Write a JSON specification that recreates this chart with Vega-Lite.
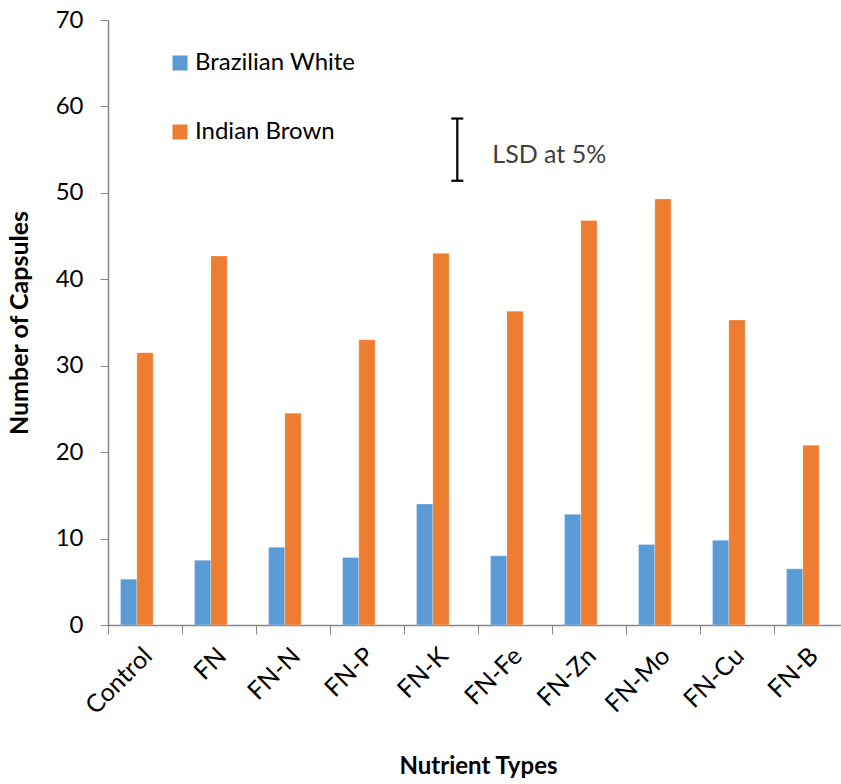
{
  "$schema": "https://vega.github.io/schema/vega-lite/v6.json",
  "autosize": {"type": "none"},
  "padding": {"left": 108, "top": 20, "right": 0, "bottom": 159},
  "width": 733,
  "height": 605,
  "background": "white",
  "config": {
    "view": {"stroke": null},
    "font": "Lato",
    "axis": {"labelFont": "Lato", "titleFont": "Lato", "domainColor": "#868686", "tickColor": "#868686", "grid": false, "labelColor": "#000000", "titleColor": "#000000"}
  },
  "datasets": {
    "bars": [
      {"nutrient": "Control", "variety": "Brazilian White", "capsules": 5.3},
      {"nutrient": "Control", "variety": "Indian Brown", "capsules": 31.5},
      {"nutrient": "FN", "variety": "Brazilian White", "capsules": 7.5},
      {"nutrient": "FN", "variety": "Indian Brown", "capsules": 42.7},
      {"nutrient": "FN-N", "variety": "Brazilian White", "capsules": 9.0},
      {"nutrient": "FN-N", "variety": "Indian Brown", "capsules": 24.5},
      {"nutrient": "FN-P", "variety": "Brazilian White", "capsules": 7.8},
      {"nutrient": "FN-P", "variety": "Indian Brown", "capsules": 33.0},
      {"nutrient": "FN-K", "variety": "Brazilian White", "capsules": 14.0},
      {"nutrient": "FN-K", "variety": "Indian Brown", "capsules": 43.0},
      {"nutrient": "FN-Fe", "variety": "Brazilian White", "capsules": 8.0},
      {"nutrient": "FN-Fe", "variety": "Indian Brown", "capsules": 36.3},
      {"nutrient": "FN-Zn", "variety": "Brazilian White", "capsules": 12.8},
      {"nutrient": "FN-Zn", "variety": "Indian Brown", "capsules": 46.8},
      {"nutrient": "FN-Mo", "variety": "Brazilian White", "capsules": 9.3},
      {"nutrient": "FN-Mo", "variety": "Indian Brown", "capsules": 49.3},
      {"nutrient": "FN-Cu", "variety": "Brazilian White", "capsules": 9.8},
      {"nutrient": "FN-Cu", "variety": "Indian Brown", "capsules": 35.3},
      {"nutrient": "FN-B", "variety": "Brazilian White", "capsules": 6.5},
      {"nutrient": "FN-B", "variety": "Indian Brown", "capsules": 20.8}
    ],
    "lsd": [
      {"nutrient": "FN-K", "variety": "LSD", "lo": 51.4, "hi": 58.6, "mid": 54.4, "label": "LSD at 5%"}
    ]
  },
  "layer": [
    {
      "data": {"name": "bars"},
      "mark": {"type": "bar", "stroke": "#ffffff", "strokeOpacity": 0.35, "strokeWidth": 0.8},
      "encoding": {
        "x": {
          "field": "nutrient", "type": "nominal",
          "scale": {"domain": ["Control", "FN", "FN-N", "FN-P", "FN-K", "FN-Fe", "FN-Zn", "FN-Mo", "FN-Cu", "FN-B"], "range": [0, 740], "paddingInner": 0, "paddingOuter": 0},
          "axis": {
            "title": "Nutrient Types", "titleFontSize": 24, "titleFontWeight": "bold", "titlePadding": 36,
            "labelAngle": -45, "labelFontSize": 25, "labelPadding": 9, "labelOffset": -6,
            "tickBand": "extent", "tickSize": 9, "domainWidth": 1.5
          }
        },
        "xOffset": {"field": "variety", "type": "nominal", "scale": {"domain": ["Brazilian White", "Indian Brown", "LSD"], "paddingInner": 0, "paddingOuter": 0.77}},
        "y": {
          "field": "capsules", "type": "quantitative",
          "scale": {"domain": [0, 70], "nice": false},
          "axis": {
            "title": "Number of Capsules", "titleFontSize": 25, "titleFontWeight": "bold", "titlePadding": 23,
            "values": [0, 10, 20, 30, 40, 50, 60, 70], "labelFontSize": 24, "labelPadding": 17, "tickSize": 8, "domainWidth": 1.5
          }
        },
        "color": {
          "field": "variety", "type": "nominal",
          "scale": {"domain": ["Brazilian White", "Indian Brown"], "range": ["#5B9BD5", "#ED7D31"]},
          "legend": {
            "title": null, "orient": "none", "legendX": 60, "legendY": 31,
            "symbolType": "square", "symbolSize": 225, "symbolStrokeWidth": 0, "symbolOpacity": 1,
            "labelFontSize": 24, "labelFont": "Lato", "labelColor": "#000000", "labelLimit": 400, "rowPadding": 45, "labelOffset": 3
          }
        }
      }
    },
    {
      "data": {"name": "lsd"},
      "mark": {"type": "rule", "color": "#000000", "strokeWidth": 2.2},
      "encoding": {
        "x": {"field": "nutrient", "type": "nominal"},
        "xOffset": {"field": "variety", "type": "nominal"},
        "y": {"field": "lo", "type": "quantitative"},
        "y2": {"field": "hi"}
      }
    },
    {
      "data": {"name": "lsd"},
      "mark": {"type": "tick", "color": "#000000", "orient": "horizontal", "size": 12, "thickness": 2.2, "opacity": 1},
      "encoding": {
        "x": {"field": "nutrient", "type": "nominal"},
        "xOffset": {"field": "variety", "type": "nominal"},
        "y": {"field": "lo", "type": "quantitative"}
      }
    },
    {
      "data": {"name": "lsd"},
      "mark": {"type": "tick", "color": "#000000", "orient": "horizontal", "size": 12, "thickness": 2.2, "opacity": 1},
      "encoding": {
        "x": {"field": "nutrient", "type": "nominal"},
        "xOffset": {"field": "variety", "type": "nominal"},
        "y": {"field": "hi", "type": "quantitative"}
      }
    },
    {
      "data": {"name": "lsd"},
      "mark": {"type": "text", "align": "left", "baseline": "middle", "dx": 35, "fontSize": 25, "font": "Lato", "color": "#404040"},
      "encoding": {
        "x": {"field": "nutrient", "type": "nominal"},
        "xOffset": {"field": "variety", "type": "nominal"},
        "y": {"field": "mid", "type": "quantitative"},
        "text": {"field": "label"}
      }
    }
  ]
}
